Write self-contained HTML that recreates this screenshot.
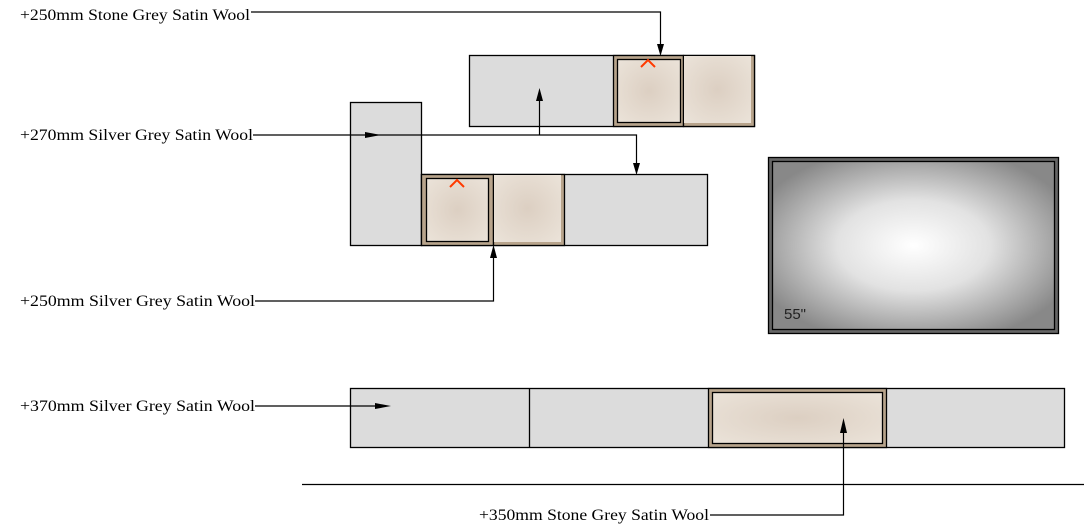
<!DOCTYPE html>
<html><head><meta charset="utf-8"><style>html,body{margin:0;padding:0;background:#fff}svg{display:block}</style></head>
<body>
<svg width="1084" height="530" viewBox="0 0 1084 530" xmlns="http://www.w3.org/2000/svg">
<defs>
<radialGradient id="tv" cx="50%" cy="50%" r="60%"><stop offset="0" stop-color="#fff"/><stop offset="0.45" stop-color="#e2e2e2"/><stop offset="1" stop-color="#888"/></radialGradient>
<radialGradient id="wool" cx="50%" cy="50%" r="70%"><stop offset="0" stop-color="#dccfc2"/><stop offset="1" stop-color="#ebe3d9"/></radialGradient>
</defs>
<g stroke="#000" stroke-width="1.3">
<rect x="469.5" y="55.5" width="285" height="71" fill="#dcdcdc"/>
<rect x="613.5" y="55.5" width="70" height="71" fill="#b8a48c"/>
<rect x="617.5" y="59.5" width="63" height="63" fill="url(#wool)"/>
<rect x="683.5" y="55.5" width="71" height="71" fill="#b8a48c"/>
<rect x="684" y="56" width="67" height="67" fill="url(#wool)" stroke="none"/>
<rect x="350.5" y="102.5" width="71" height="143" fill="#dcdcdc"/>
<rect x="421.5" y="174.5" width="286" height="71" fill="#dcdcdc"/>
<rect x="421.5" y="174.5" width="72" height="71" fill="#b8a48c"/>
<rect x="426.5" y="178.5" width="62" height="63" fill="url(#wool)"/>
<rect x="493.5" y="174.5" width="71" height="71" fill="#b8a48c"/>
<rect x="494" y="175" width="67" height="67" fill="url(#wool)" stroke="none"/>
<rect x="350.5" y="388.5" width="714" height="59" fill="#dcdcdc"/>
<line x1="529.5" y1="388" x2="529.5" y2="447"/>
<rect x="708.5" y="388.5" width="178" height="59" fill="#b8a48c"/>
<rect x="712.5" y="392.5" width="170" height="51" fill="url(#wool)"/>
<rect x="768.5" y="157.5" width="290" height="176" fill="#666"/>
<rect x="772.5" y="161.5" width="282" height="168" fill="url(#tv)"/>
</g>
<path d="M641 67 L648 60 L655 67 M450 187 L457 180 L464 187" stroke="#ff3a00" stroke-width="2" fill="none"/>
<text x="784" y="319" font-family="Liberation Sans, sans-serif" font-size="15" fill="#222">55"</text>
<g stroke="#000" stroke-width="1.2" fill="none">
<polyline points="251,12 660.5,12 660.5,48"/>
<polyline points="253,135 636.5,135 636.5,167"/>
<line x1="539.5" y1="135" x2="539.5" y2="96"/>
<polyline points="255,301 493.5,301 493.5,252"/>
<line x1="255" y1="406" x2="385" y2="406"/>
<polyline points="710,515 843.5,515 843.5,426"/>
<line x1="302" y1="484.5" x2="1084" y2="484.5"/>
</g>
<g fill="#000">
<polygon points="657,44 664,44 660.5,56"/>
<polygon points="633,163 640,163 636.5,175"/>
<polygon points="536,101 543,101 539.5,88"/>
<polygon points="490,258 497,258 493.5,245"/>
<polygon points="365,132 365,138 381,135"/>
<polygon points="375,403 375,409 391,406"/>
<polygon points="840,433 847,433 843.5,418"/>
</g>
<g font-family="Liberation Serif, serif" font-size="16" fill="#000">
<text x="20" y="20" textLength="230" lengthAdjust="spacingAndGlyphs">+250mm Stone Grey Satin Wool</text>
<text x="20" y="140" textLength="233" lengthAdjust="spacingAndGlyphs">+270mm Silver Grey Satin Wool</text>
<text x="20" y="306" textLength="235" lengthAdjust="spacingAndGlyphs">+250mm Silver Grey Satin Wool</text>
<text x="20" y="411" textLength="235" lengthAdjust="spacingAndGlyphs">+370mm Silver Grey Satin Wool</text>
<text x="479" y="520" textLength="230" lengthAdjust="spacingAndGlyphs">+350mm Stone Grey Satin Wool</text>
</g>
</svg>
</body></html>
